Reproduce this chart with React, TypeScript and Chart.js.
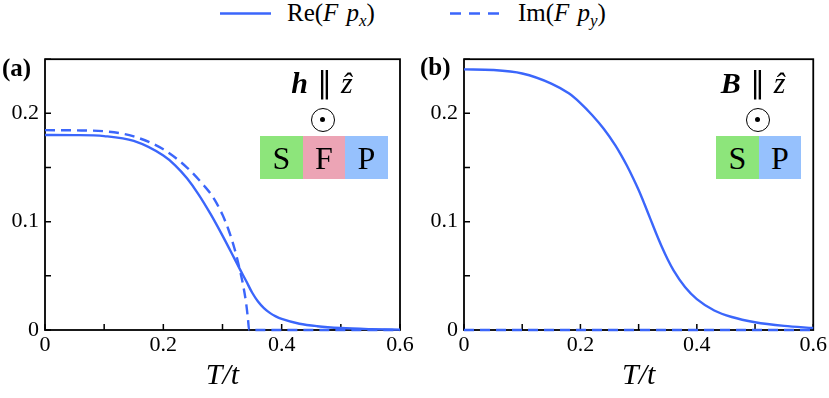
import React, { useEffect, useRef } from "react";
import { Chart, registerables } from "chart.js";

Chart.register(...registerables);

// ---------- data ----------
const T_RE_A = [0, 0.05, 0.1, 0.15, 0.2, 0.22, 0.24, 0.26, 0.28, 0.3, 0.32, 0.33, 0.34, 0.35, 0.36, 0.37, 0.38, 0.39, 0.4, 0.43, 0.46, 0.5, 0.55, 0.6];
const RE_A = [0.18, 0.1799, 0.179, 0.1745, 0.161, 0.152, 0.14, 0.1248, 0.1069, 0.0871, 0.0661, 0.0555, 0.0452, 0.0346, 0.0263, 0.0202, 0.0158, 0.0126, 0.0102, 0.0058, 0.0035, 0.0018, 0.0008, 0.0003];

const T_IM_A = [0, 0.05, 0.1, 0.15, 0.2, 0.24, 0.27, 0.28, 0.29, 0.3, 0.31, 0.32, 0.33, 0.335, 0.34, 0.343, 0.345, 0.4, 0.5, 0.6];
const IM_A = [0.1845, 0.1843, 0.1835, 0.1787, 0.1668, 0.15, 0.1325, 0.1258, 0.1172, 0.1063, 0.0928, 0.0757, 0.054, 0.041, 0.0245, 0.0105, 0, 0, 0, 0];

const T_RE_B = [0, 0.05, 0.1, 0.15, 0.18, 0.2, 0.22, 0.24, 0.26, 0.27, 0.28, 0.29, 0.3, 0.31, 0.32, 0.33, 0.34, 0.35, 0.36, 0.38, 0.4, 0.43, 0.46, 0.5, 0.55, 0.6];
const RE_B = [0.2406, 0.24, 0.2368, 0.2275, 0.2185, 0.2095, 0.1985, 0.1858, 0.1705, 0.1615, 0.1516, 0.1408, 0.1292, 0.1163, 0.1028, 0.0893, 0.0766, 0.0651, 0.0551, 0.0394, 0.0285, 0.018, 0.012, 0.0072, 0.0038, 0.0018];

const T_IM_B = [0, 0.6];
const IM_B = [0, 0];

const X_TICK_LABELS = ["0", "0.2", "0.4", "0.6"];
const Y_TICK_LABELS = ["0", "0.1", "0.2"];

const SERIES_NAMES = ["Re", "Im"];

// ---------- style ----------
const BLUE = "#3b66fb";
const SERIF = "Liberation Serif";
const DASH = [10, 6];

Chart.defaults.font.family = SERIF;

const framePlugin = {
  id: "frame",
  beforeDatasetsDraw(chart: any) {
    const { ctx, chartArea: a, scales } = chart;
    ctx.save();
    ctx.strokeStyle = "#000";
    ctx.lineWidth = 1.8;
    ctx.strokeRect(a.left, a.top, a.right - a.left, a.bottom - a.top);
    ctx.lineWidth = 1.5;
    ctx.beginPath();
    scales.x.ticks.forEach((t: any) => {
      const px = scales.x.getPixelForValue(t.value);
      ctx.moveTo(px, a.bottom);
      ctx.lineTo(px, a.bottom - 6);
    });
    scales.y.ticks.forEach((t: any) => {
      const py = scales.y.getPixelForValue(t.value);
      ctx.moveTo(a.left, py);
      ctx.lineTo(a.left + 6, py);
    });
    ctx.stroke();
    ctx.restore();
  },
};

function pts(xs: number[], ys: number[]) {
  return xs.map((x, i) => ({ x, y: ys[i] }));
}

function makeConfig(re: any[], im: any[], yWidth: number, padRight: number): any {
  return {
    type: "line",
    data: {
      datasets: [
        {
          label: SERIES_NAMES[1],
          data: im,
          borderColor: BLUE,
          borderWidth: 2.4,
          borderDash: DASH,
          pointRadius: 0,
          cubicInterpolationMode: "monotone",
          clip: false,
          fill: false,
        },
        {
          label: SERIES_NAMES[0],
          data: re,
          borderColor: BLUE,
          borderWidth: 2.4,
          pointRadius: 0,
          cubicInterpolationMode: "monotone",
          clip: false,
          fill: false,
        },
      ],
    },
    options: {
      responsive: false,
      animation: false,
      events: [],
      layout: { padding: { top: 12, right: padRight, left: 0, bottom: 0 } },
      plugins: { legend: { display: false }, tooltip: { enabled: false } },
      scales: {
        x: {
          type: "linear",
          min: 0,
          max: 0.6,
          grid: { display: false, drawTicks: false },
          border: { display: false },
          ticks: {
            stepSize: 0.1,
            autoSkip: false,
            maxRotation: 0,
            padding: 2,
            color: "#000",
            font: { family: SERIF, size: 22 },
            callback: (v: number) => {
              const i = Math.round(v / 0.2);
              return Math.abs(v - i * 0.2) < 1e-6 ? X_TICK_LABELS[i] : "";
            },
          },
          title: {
            display: true,
            text: "T/t",
            color: "#000",
            font: { family: SERIF, size: 30, style: "italic" },
            padding: { top: 0, bottom: 4 },
          },
          afterFit: (s: any) => {
            s.height = 68;
          },
        },
        y: {
          min: 0,
          max: 0.25,
          grid: { display: false, drawTicks: false },
          border: { display: false },
          ticks: {
            stepSize: 0.05,
            autoSkip: false,
            padding: 6,
            color: "#000",
            font: { family: SERIF, size: 22 },
            callback: (v: number) => {
              const i = Math.round(v / 0.1);
              return Math.abs(v - i * 0.1) < 1e-6 ? Y_TICK_LABELS[i] : "";
            },
          },
          afterFit: (s: any) => {
            s.width = yWidth;
          },
        },
      },
    },
    plugins: [framePlugin],
  };
}

function Panel(props: { left: number; width: number; re: any[]; im: any[]; yWidth: number; padRight: number }) {
  const ref = useRef<HTMLCanvasElement>(null);
  useEffect(() => {
    const chart = new Chart(ref.current as HTMLCanvasElement, makeConfig(props.re, props.im, props.yWidth, props.padRight));
    return () => chart.destroy();
  }, []);
  return (
    <canvas
      ref={ref}
      width={props.width}
      height={358}
      style={{ position: "absolute", left: props.left, top: 40, width: props.width, height: 358 }}
    />
  );
}

const abs = (o: any): any => ({ position: "absolute", whiteSpace: "nowrap", fontFamily: SERIF, color: "#000", ...o });

function Odot(props: { cx: number; cy: number }) {
  return (
    <div
      style={{
        position: "absolute",
        left: props.cx - 12.5,
        top: props.cy - 12.5,
        width: 22,
        height: 22,
        border: "1.6px solid #000",
        borderRadius: "50%",
      }}
    >
      <div style={{ position: "absolute", left: 8.5, top: 8.5, width: 5, height: 5, borderRadius: "50%", background: "#000" }} />
    </div>
  );
}

function Box(props: { left: number; width: number; color: string; letter: string }) {
  return (
    <div
      style={abs({
        left: props.left,
        top: 136,
        width: props.width,
        height: 43,
        background: props.color,
        display: "flex",
        alignItems: "center",
        justifyContent: "center",
        fontSize: 32,
        lineHeight: "32px",
      })}
    >
      {props.letter}
    </div>
  );
}

const subStyle: any = { fontSize: 17, position: "relative", top: 5, verticalAlign: "baseline", fontStyle: "italic" };
const parStyle: any = { margin: "0 9px" };

export default function App() {
  return (
    <div style={{ position: "absolute", left: 0, top: 0, width: 829, height: 398, background: "#fff", overflow: "hidden" }}>
      <Panel left={0} width={420} re={pts(T_RE_A, RE_A)} im={pts(T_IM_A, IM_A)} yWidth={45} padRight={20} />
      <Panel left={420} width={409} re={pts(T_RE_B, RE_B)} im={pts(T_IM_B, IM_B)} yWidth={44} padRight={11} />

      {/* legend */}
      <svg style={{ position: "absolute", left: 0, top: 0 }} width={829} height={30}>
        <line x1={220} y1={13.5} x2={271} y2={13.5} stroke={BLUE} strokeWidth={2.5} />
        <line x1={450} y1={13.5} x2={501} y2={13.5} stroke={BLUE} strokeWidth={2.5} strokeDasharray="11 8" />
      </svg>
      <div style={abs({ left: 287, top: 0, fontSize: 25, lineHeight: "25px" })}>
        Re(<i>F</i>
        <span style={{ marginLeft: 8 }} />
        <i>p</i>
        <span style={subStyle}>x</span>)
      </div>
      <div style={abs({ left: 518, top: 0, fontSize: 25, lineHeight: "25px" })}>
        Im(<i>F</i>
        <span style={{ marginLeft: 8 }} />
        <i>p</i>
        <span style={subStyle}>y</span>)
      </div>

      {/* panel labels */}
      <div style={abs({ left: 2, top: 55, fontSize: 25, lineHeight: "25px", fontWeight: "bold" })}>(a)</div>
      <div style={abs({ left: 420, top: 54, fontSize: 25, lineHeight: "25px", fontWeight: "bold" })}>(b)</div>

      {/* panel (a) inset */}
      <div style={abs({ left: 262, top: 68, width: 120, textAlign: "center", fontSize: 30, lineHeight: "30px" })}>
        <b><i>h</i></b>
        <span style={parStyle}>∥</span>
        <i>ẑ</i>
      </div>
      <Odot cx={323} cy={120} />
      <Box left={260} width={43} color="#8de57b" letter="S" />
      <Box left={303} width={42} color="#eca4b5" letter="F" />
      <Box left={345} width={43} color="#96c1fd" letter="P" />

      {/* panel (b) inset */}
      <div style={abs({ left: 693, top: 68, width: 120, textAlign: "center", fontSize: 30, lineHeight: "30px" })}>
        <b><i>B</i></b>
        <span style={parStyle}>∥</span>
        <i>ẑ</i>
      </div>
      <Odot cx={758} cy={120} />
      <Box left={716} width={43} color="#8de57b" letter="S" />
      <Box left={759} width={42} color="#96c1fd" letter="P" />
    </div>
  );
}
